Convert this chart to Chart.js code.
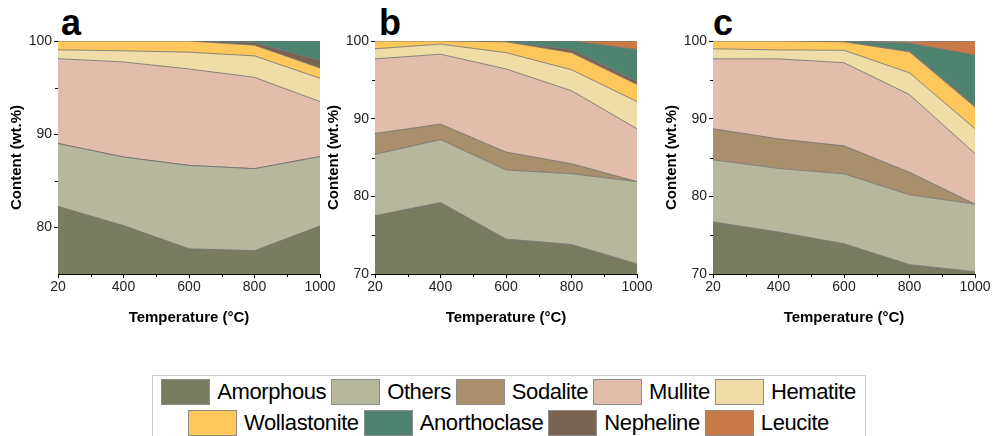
<!DOCTYPE html>
<html>
<head>
<meta charset="utf-8">
<script src="https://cdn.jsdelivr.net/npm/chart.js@4.4.1/dist/chart.umd.min.js"></script>
<style>
  body { margin: 0; background: #fff; width: 999px; height: 436px; position: relative; overflow: hidden; font-family: "Liberation Sans", Arial, sans-serif; }
  canvas { position: absolute; top: 0; }
  .tag { position: absolute; top: 5px; font-weight: bold; font-size: 36px; line-height: 36px; color: #000; }
  #legend { position: absolute; left: 152px; top: 375px; width: 714px; height: 70px; border: 1px solid #cfcfcf; box-sizing: border-box; }
  .row { display: flex; justify-content: center; height: 30px; margin-top: 1px; }
  .item { display: flex; align-items: center; margin: 0 2px; }
  .sw { width: 47px; height: 24px; border: 1px solid #8c8c8c; margin-right: 7px; }
  .lab { font-size: 22px; color: #000; margin-right: 1px; letter-spacing: -0.4px; }
</style>
</head>
<body>
<div class="tag" style="left:61px">a</div>
<div class="tag" style="left:379px">b</div>
<div class="tag" style="left:713px">c</div>
<canvas id="chartA" width="337" height="340" style="left:0px"></canvas>
<canvas id="chartB" width="337" height="340" style="left:317px"></canvas>
<canvas id="chartC" width="337" height="340" style="left:655px"></canvas>
<div id="legend"></div>
<script>
// temperatures (°C)
const temperatures = ['20', '400', '600', '800', '1000'];

// legend order and colours
const phases = ['Amorphous', 'Others', 'Sodalite', 'Mullite', 'Hematite', 'Wollastonite', 'Anorthoclase', 'Nepheline', 'Leucite'];
const phaseColors = ['#7a7c60', '#b6b79b', '#a98f6c', '#e2bdaa', '#f0dca6', '#fdc75c', '#4e8370', '#7b6352', '#c97a47'];
// stacking order, bottom to top
const stackOrder = ['Amorphous', 'Others', 'Sodalite', 'Mullite', 'Hematite', 'Wollastonite', 'Nepheline', 'Anorthoclase', 'Leucite'];

// panel a (wt.%)
const amorphousA    = [82.25, 80.2, 77.7, 77.5, 80.15];
const othersA       = [6.75, 7.35, 8.95, 8.8, 7.45];
const sodaliteA     = [0, 0, 0, 0, 0];
const mulliteA      = [9.1, 10.2, 10.35, 9.8, 5.9];
const hematiteA     = [0.95, 1.2, 1.8, 2.3, 2.5];
const wollastoniteA = [0.95, 1.05, 1.2, 1.15, 1.1];
const nephelineA    = [0, 0, 0, 0.25, 0.8];
const anorthoclaseA = [0, 0, 0, 0.2, 2.1];
const leuciteA      = [0, 0, 0, 0, 0];

// panel b
const amorphousB    = [77.5, 79.2, 74.5, 73.8, 71.3];
const othersB       = [7.9, 8.1, 8.9, 9.1, 10.6];
const sodaliteB     = [2.7, 2.0, 2.3, 1.3, 0];
const mulliteB      = [9.6, 9.0, 10.7, 9.4, 6.8];
const hematiteB     = [1.3, 1.3, 2.1, 2.7, 3.5];
const wollastoniteB = [1.0, 0.4, 1.4, 2.2, 2.2];
const nephelineB    = [0, 0, 0, 0.4, 0.4];
const anorthoclaseB = [0, 0, 0.1, 1.1, 4.1];
const leuciteB      = [0, 0, 0, 0, 1.1];

// panel c
const amorphousC    = [76.7, 75.4, 73.9, 71.2, 70.3];
const othersC       = [8.0, 8.2, 9.0, 9.0, 8.7];
const sodaliteC     = [4.0, 3.8, 3.6, 2.9, 0];
const mulliteC      = [9.0, 10.3, 10.7, 10.0, 6.5];
const hematiteC     = [1.3, 1.15, 1.6, 2.8, 3.2];
const wollastoniteC = [1.0, 1.15, 1.1, 2.7, 2.8];
const nephelineC    = [0, 0, 0, 0.1, 0.2];
const anorthoclaseC = [0, 0, 0.1, 1.0, 6.5];
const leuciteC      = [0, 0, 0, 0.2, 1.8];

const yTicksA = [80, 90, 100];
const yTicksBC = [70, 80, 90, 100];
const yMinorA = [85, 95];
const yMinorBC = [75, 85, 95];

const font = "'Liberation Sans', Arial, sans-serif";

// small outward minor ticks, between categories on x and at the given values on y
const minorTicks = {
  id: 'minorTicks',
  afterDraw(chart, args, opts) {
    const { ctx, chartArea, scales: { x, y } } = chart;
    ctx.save();
    ctx.strokeStyle = '#000';
    ctx.lineWidth = 1;
    ctx.beginPath();
    for (let i = 0; i < temperatures.length - 1; i++) {
      const px = Math.round((x.getPixelForValue(i) + x.getPixelForValue(i + 1)) / 2) + 0.5;
      ctx.moveTo(px, chartArea.bottom);
      ctx.lineTo(px, chartArea.bottom + 3);
    }
    (opts.values || []).forEach(v => {
      const py = Math.round(y.getPixelForValue(v)) + 0.5;
      ctx.moveTo(chartArea.left, py);
      ctx.lineTo(chartArea.left - 3, py);
    });
    ctx.stroke();
    ctx.restore();
  }
};

function makePanel(id, series, yMin, yTicks, yMinor) {
  const datasets = stackOrder.map((name, i) => ({
    label: name,
    data: series[i],
    backgroundColor: phaseColors[phases.indexOf(name)],
    borderColor: '#6d6d6d',
    borderWidth: 0.8,
    pointRadius: 0,
    tension: 0,
    fill: i === 0 ? 'start' : '-1'
  }));

  new Chart(document.getElementById(id), {
    type: 'line',
    data: { labels: temperatures, datasets },
    plugins: [minorTicks],
    options: {
      responsive: false,
      animation: false,
      layout: { padding: { top: 41, right: 17, left: 0, bottom: 0 } },
      plugins: {
        legend: { display: false },
        tooltip: { enabled: false },
        minorTicks: { values: yMinor }
      },
      scales: {
        x: {
          type: 'category',
          offset: false,
          afterFit: s => { s.height = 66; },
          grid: { drawOnChartArea: false, tickLength: 4, tickColor: '#000' },
          border: { color: '#000', width: 1 },
          ticks: { color: '#222', font: { family: font, size: 14 }, padding: 1, maxRotation: 0, autoSkip: false },
          title: { display: true, text: 'Temperature (°C)', color: '#000', font: { family: font, size: 15, weight: 'bold' }, padding: { top: 0, bottom: 13 } }
        },
        y: {
          stacked: true,
          min: yMin,
          max: 100,
          afterFit: s => { s.width = 58; },
          afterBuildTicks: s => { s.ticks = yTicks.map(v => ({ value: v })); },
          grid: { drawOnChartArea: false, tickLength: 4, tickColor: '#000' },
          border: { color: '#000', width: 1 },
          ticks: { color: '#222', font: { family: font, size: 14 }, padding: 2 },
          title: { display: true, text: 'Content (wt.%)', color: '#000', font: { family: font, size: 15, weight: 'bold' }, padding: { top: 8, bottom: 0 } }
        }
      }
    }
  });
}

makePanel('chartA', [amorphousA, othersA, sodaliteA, mulliteA, hematiteA, wollastoniteA, nephelineA, anorthoclaseA, leuciteA], 75, yTicksA, yMinorA);
makePanel('chartB', [amorphousB, othersB, sodaliteB, mulliteB, hematiteB, wollastoniteB, nephelineB, anorthoclaseB, leuciteB], 70, yTicksBC, yMinorBC);
makePanel('chartC', [amorphousC, othersC, sodaliteC, mulliteC, hematiteC, wollastoniteC, nephelineC, anorthoclaseC, leuciteC], 70, yTicksBC, yMinorBC);

// shared legend, two rows
const legend = document.getElementById('legend');
[phases.slice(0, 5), phases.slice(5)].forEach(names => {
  const row = document.createElement('div');
  row.className = 'row';
  names.forEach(name => {
    const item = document.createElement('div');
    item.className = 'item';
    item.innerHTML = '<span class="sw" style="background:' + phaseColors[phases.indexOf(name)] + '"></span><span class="lab">' + name + '</span>';
    row.appendChild(item);
  });
  legend.appendChild(row);
});
</script>
</body>
</html>
